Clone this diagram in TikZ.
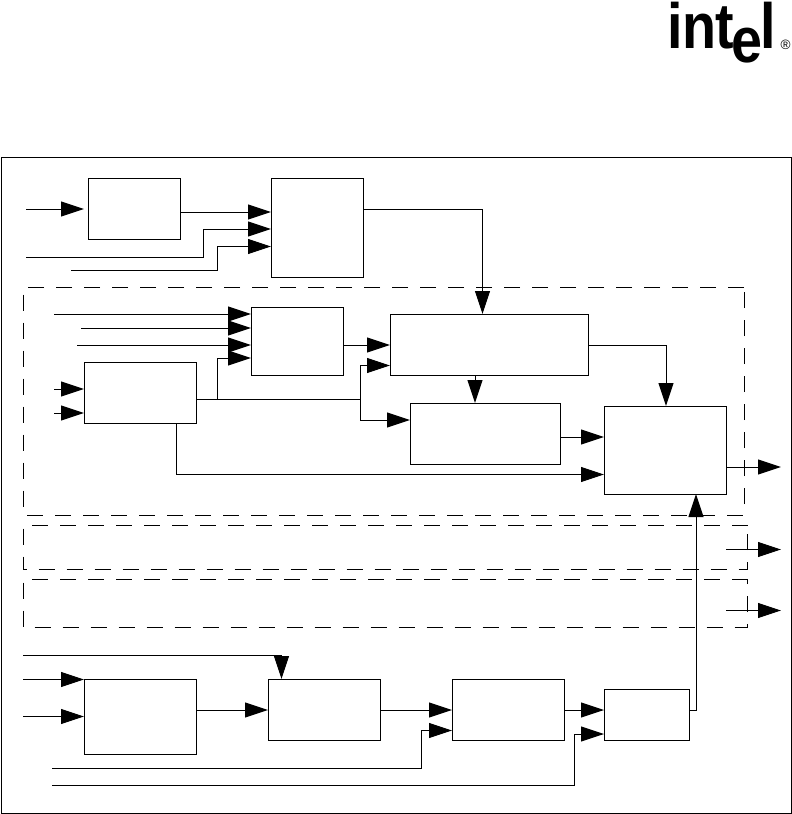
\documentclass[tikz,border=0pt]{standalone}
\usepackage{fontspec}
\usepackage{tikz}
\usetikzlibrary{arrows.meta,positioning,calc}
\setmainfont{Liberation Sans}

\tikzset{
  blockbox/.style={draw,line width=1pt,minimum width=#1,anchor=north west,inner sep=0pt,outer sep=0pt},
  zonebox/.style={line width=1pt,dash pattern=on 16pt off 12pt},
  sig/.style={line width=1pt,-{Triangle[length=23pt,width=15pt]}},
}

\begin{document}
\begin{tikzpicture}[x=1pt,y=-1pt]
  \useasboundingbox (0,0) rectangle (792,814);
  % outer frame
  \draw[line width=1pt] (1.5,157) rectangle (791,813);
  % logo
  \node[font=\bfseries\fontsize{64}{64}\selectfont,anchor=base west,inner sep=0pt,xscale=0.87,transform shape] (logo) at (667,48)
    {in\kern-1pt t\kern-3pt\raisebox{-14pt}{e}\kern-3pt l};
  \node[font=\fontsize{13.5}{13.5}\selectfont,inner sep=0pt] (regmark) at (785.5,45) {\textregistered};
  % dashed zones
  \draw[zonebox] (744,287) -- (23.5,287) -- (23.5,515) -- (744,515) -- cycle;
  \draw[zonebox] (747.5,525) -- (23,525) -- (23,569) -- (747.5,569) -- cycle;
  \draw[zonebox] (747.5,579) -- (23,579) -- (23,627) -- (747.5,627) -- cycle;
  % blocks
  \node[blockbox=92pt,minimum height=61pt] (clk) at (88,178) {};
  \node[blockbox=92pt,minimum height=99pt] (sel) at (271,178) {};
  \node[blockbox=92pt,minimum height=68pt] (mux) at (251,307) {};
  \node[blockbox=112pt,minimum height=61pt] (dec) at (84,362) {};
  \node[blockbox=198pt,minimum height=61pt] (ctl) at (390,314) {};
  \node[blockbox=150pt,minimum height=61pt] (gen) at (410,403) {};
  \node[blockbox=122pt,minimum height=88pt] (drv) at (604,406) {};
  \node[blockbox=112pt,minimum height=75pt] (inp) at (84,679) {};
  \node[blockbox=112pt,minimum height=61pt] (cnt) at (268,679) {};
  \node[blockbox=112pt,minimum height=61pt] (cmp) at (452,679) {};
  \node[blockbox=85pt,minimum height=51pt] (reg) at (604,689) {};
  % free ends
  \coordinate (a1) at (26,209);
  \coordinate (a2) at (26,257);
  \coordinate (a3) at (71,270);
  \coordinate (m1) at (54,314);
  \coordinate (m2) at (81,328);
  \coordinate (m3) at (77,345);
  \coordinate (d1) at (54,389);
  \coordinate (d2) at (54,413);
  \coordinate (i1) at (23,655);
  \coordinate (i2) at (23,679.5);
  \coordinate (i3) at (23,716.5);
  \coordinate (l1) at (52,768);
  \coordinate (l2) at (52,785);
  \coordinate (o1) at (781,467);
  \coordinate (o2a) at (726,549.5);
  \coordinate (o2) at (781,549.5);
  \coordinate (o3a) at (726,610.5);
  \coordinate (o3) at (781,610.5);
  % top row
  \draw[sig,shorten >=4pt] (a1) -- (clk.west |- a1);
  \draw[sig] (clk.east |- 0,212) -- (sel.west |- 0,212);
  \draw[sig] (a2) -| (203,229) -- (sel.west |- 0,229);
  \draw[sig] (a3) -| (217,246.5) -- (sel.west |- 0,246.5);
  \draw[sig] (sel.east |- 0,209) -| (ctl.north -| 482.5,0);
  % middle zone
  \foreach \p/\q in {m1/314,m2/328,m3/345} {
    \draw[sig] (\p) -- (mux.west |- 0,\q);
  }
  \draw[sig] (d1) -- (dec.west |- d1);
  \draw[sig] (d2) -- (dec.west |- d2);
  \draw[sig] (dec.east |- 0,399) -| (217.5,358) -- (mux.west |- 0,358);
  \draw[line width=1pt] (dec.east |- 0,399) -- (360,399);
  \draw[sig] (360,399) |- (ctl.west |- 0,365.5);
  \draw[sig] (360,399) |- (gen.west |- 0,420);
  \draw[sig] (mux.east |- 0,345) -- (ctl.west |- 0,345);
  \draw[sig] (dec.south -| 176,0) |- (drv.west |- 0,474.5);
  \draw[sig] (ctl.south -| 475,0) -- (gen.north -| 475,0);
  \draw[sig] (ctl.east |- 0,345) -| (drv.north -| 666,0);
  \draw[sig] (gen.east |- 0,437) -- (drv.west |- 0,437);
  % outputs
  \draw[sig] (drv.east |- o1) -- (o1);
  \draw[sig] (o2a) -- (o2);
  \draw[sig] (o3a) -- (o3);
  % bottom row
  \draw[sig] (i1) -| (cnt.north -| 281.5,0);
  \draw[sig] (i2) -- (inp.west |- i2);
  \draw[sig] (i3) -- (inp.west |- i3);
  \draw[sig] (inp.east |- 0,710) -- (cnt.west |- 0,710);
  \draw[sig] (cnt.east |- 0,710) -- (cmp.west |- 0,710);
  \draw[sig] (cmp.east |- 0,710) -- (reg.west |- 0,710);
  \draw[sig] (l1) -| (421,730.5) -- (cmp.west |- 0,730.5);
  \draw[sig] (l2) -| (574.5,734) -- (reg.west |- 0,734);
  \draw[sig] (reg.east |- 0,710) -| (drv.south -| 696,0);
\end{tikzpicture}
\end{document}
